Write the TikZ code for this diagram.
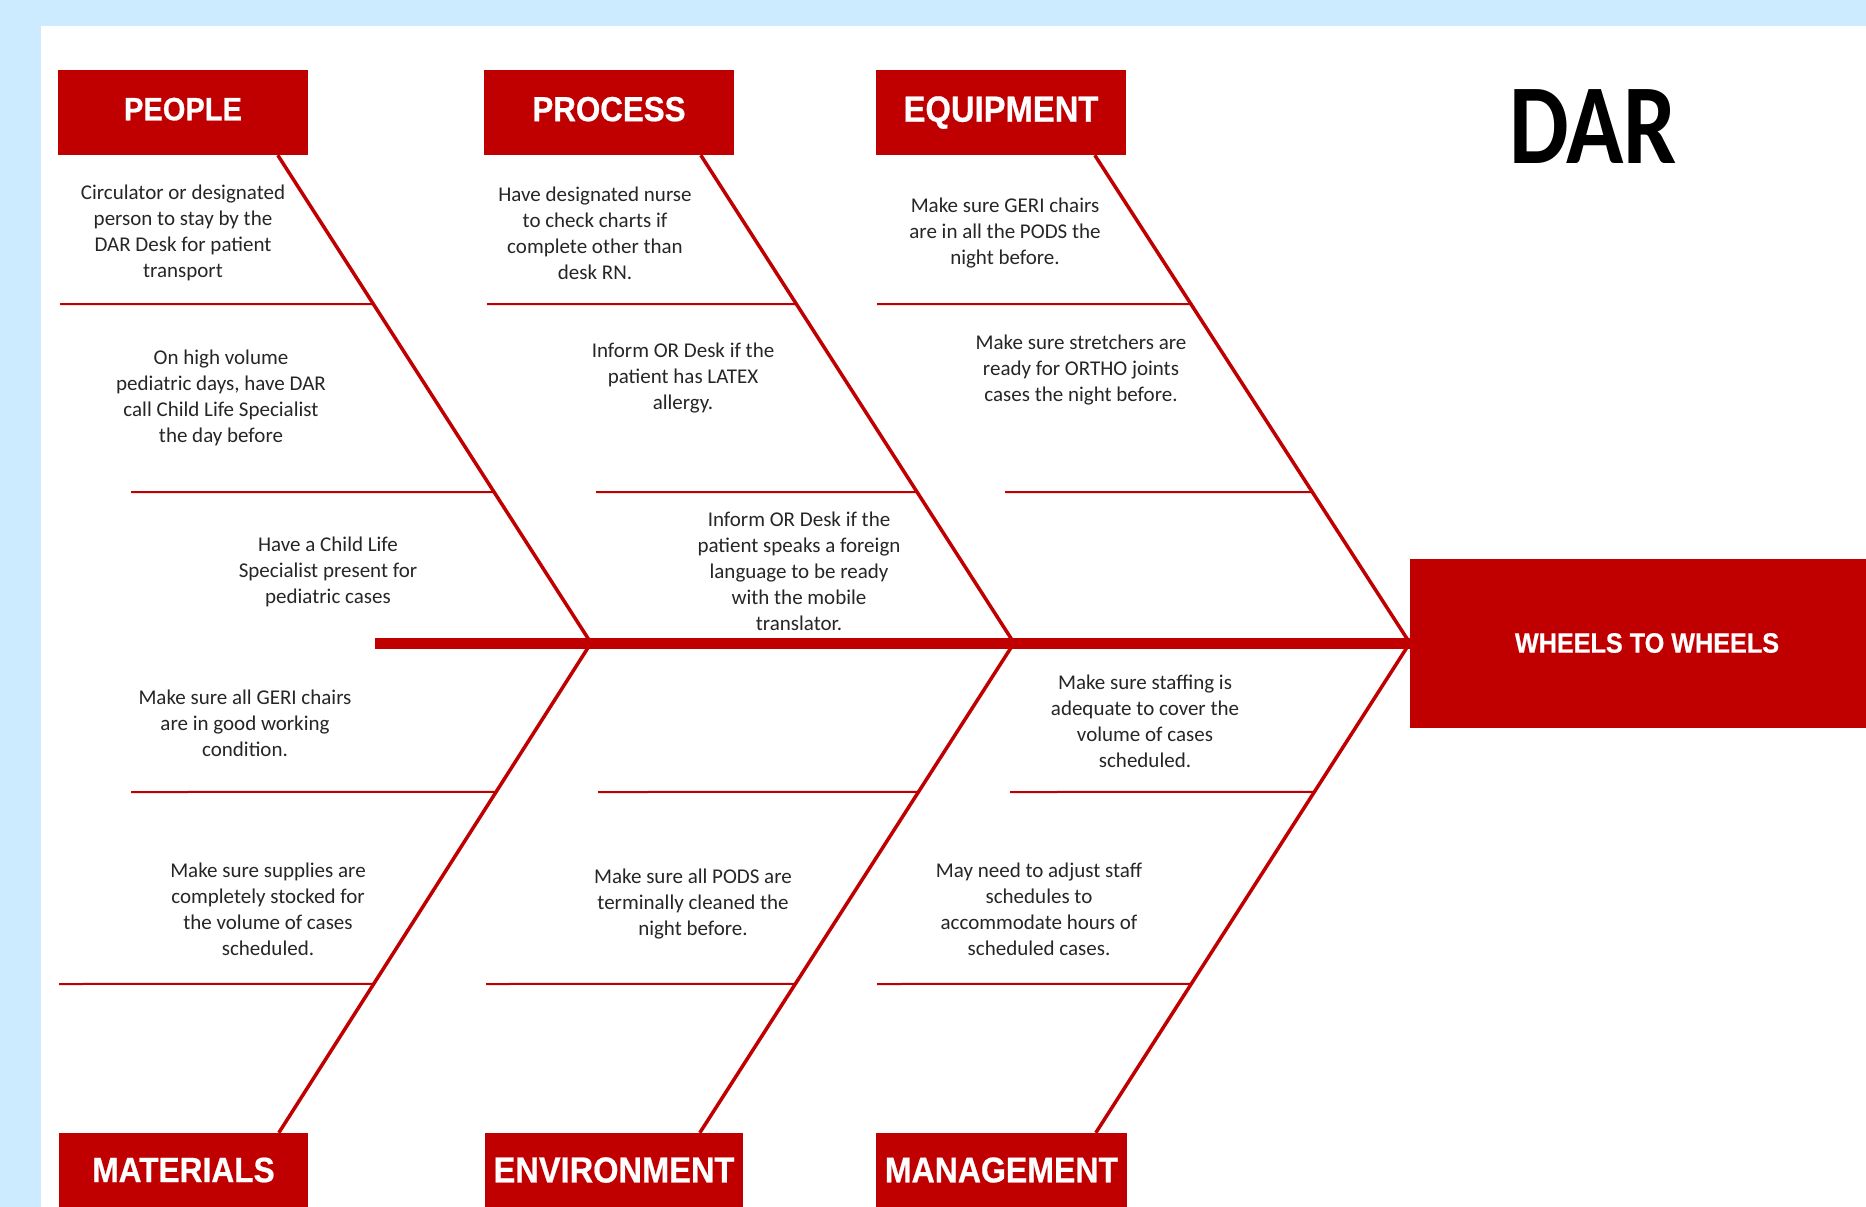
\documentclass[tikz,border=0pt]{standalone}
\usepackage{fontspec}
\setmainfont{Carlito}
\newfontfamily\headfont{Liberation Sans}[FakeStretch=0.9,FakeBold=0.6]
\newfontfamily\darfont{Carlito}[FakeStretch=0.83]
\usetikzlibrary{calc}
\definecolor{fishred}{HTML}{C00000}
\definecolor{paneblue}{RGB}{204,235,255}
\definecolor{notegray}{HTML}{262626}

\begin{document}
\begin{tikzpicture}[x=1pt,y=-1pt,
  catbox/.style={fill=fishred, text=white, inner sep=0pt,
    font=\headfont\bfseries\fontsize{#1}{#1}\selectfont},
  topbox/.style={catbox=#1, minimum height=85pt, text depth=7pt},
  botbox/.style={catbox=#1, minimum height=74pt},
  note/.style={align=center, text=notegray, inner sep=0pt,
    font=\fontsize{21}{26}\selectfont},
  spine/.style={draw=fishred, line width=11pt},
  bone/.style={draw=fishred, line width=3.5pt},
  rib/.style={draw=fishred, line width=2pt}]

\useasboundingbox (0,0) rectangle (1866,1207);
\clip (0,0) rectangle (1866,1207);

% page frame
\fill[paneblue] (0,0) rectangle (1866,1207);
\fill[white] (41,26) rectangle (1866,1207);

% title
\node[font=\darfont\bfseries\fontsize{114}{114}\selectfont, inner sep=0pt] (dar) at (1593,127) {DAR};

% category boxes
\node[topbox=32.3, minimum width=250pt] (people)    at (183,112.5)  {PEOPLE};
\node[topbox=34.8, minimum width=250pt] (process)   at (609,112.5)  {PROCESS};
\node[topbox=36.4, minimum width=250pt] (equipment) at (1001,112.5) {EQUIPMENT};
\node[botbox=35.2, minimum width=249pt] (materials)   at (183.5,1170) {MATERIALS};
\node[botbox=36.2, minimum width=258pt] (environment) at (614,1170)   {ENVIRONMENT};
\node[botbox=35.6, minimum width=251pt] (management)  at (1001.5,1170) {MANAGEMENT};

% effect box
\node[catbox=28, minimum width=474pt, minimum height=169pt] (wheels) at (1647,643) {WHEELS TO WHEELS};

% spine
\coordinate (tail) at (375,643);
\coordinate (j1) at (591,643);
\coordinate (j2) at (1014,643);
\draw[spine] (tail) -- (wheels.west);

% bone roots on the boxes
\coordinate (p1) at ($(people.south west)+(220,0)$);
\coordinate (p2) at ($(process.south west)+(217,0)$);
\coordinate (p3) at ($(equipment.south west)+(219,0)$);
\coordinate (m1) at ($(materials.north west)+(220,0)$);
\coordinate (m2) at ($(environment.north west)+(215,0)$);
\coordinate (m3) at ($(management.north west)+(220,0)$);

% bones
\draw[bone] (p1) -- (j1);
\draw[bone] (m1) -- (j1);
\draw[bone] (p2) -- (j2);
\draw[bone] (m2) -- (j2);
\draw[bone] (p3) -- (wheels.west);
\draw[bone] (m3) -- (wheels.west);

% rib starts
\coordinate (a1) at (60,304);   \coordinate (a2) at (131,492);
\coordinate (a3) at (131,792);  \coordinate (a4) at (59,984);
\coordinate (b1) at (487,304);  \coordinate (b2) at (596,492);
\coordinate (b3) at (598,792);  \coordinate (b4) at (486,984);
\coordinate (c1) at (877,304);  \coordinate (c2) at (1005,492);
\coordinate (c3) at (1010,792); \coordinate (c4) at (877,984);

% ribs, each ending on its bone
\draw[rib] (a1) -- ($(p1)!0.3053!(j1)$);
\draw[rib] (a2) -- ($(p1)!0.6906!(j1)$);
\draw[rib] (a3) -- ($(j1)!0.3041!(m1)$);
\draw[rib] (a4) -- ($(j1)!0.6959!(m1)$);
\draw[rib] (b1) -- ($(p2)!0.3053!(j2)$);
\draw[rib] (b2) -- ($(p2)!0.6906!(j2)$);
\draw[rib] (b3) -- ($(j2)!0.3041!(m2)$);
\draw[rib] (b4) -- ($(j2)!0.6959!(m2)$);
\draw[rib] (c1) -- ($(p3)!0.3053!(wheels.west)$);
\draw[rib] (c2) -- ($(p3)!0.6906!(wheels.west)$);
\draw[rib] (c3) -- ($(wheels.west)!0.3041!(m3)$);
\draw[rib] (c4) -- ($(wheels.west)!0.6959!(m3)$);

% causes
\node[note] (n1) at (183,233) {Circulator or designated\\person to stay by the\\DAR Desk for patient\\transport};
\node[note] (n2) at (221,398) {On high volume\\pediatric days, have DAR\\call Child Life Specialist\\the day before};
\node[note] (n3) at (328,572) {Have a Child Life\\Specialist present for\\pediatric cases};
\node[note] (n4) at (245,723) {Make sure all GERI chairs\\are in good working\\condition.};
\node[note] (n5) at (268,909) {Make sure supplies are\\completely stocked for\\the volume of cases\\scheduled.};
\node[note] (n6) at (595,233) {Have designated nurse\\to check charts if\\complete other than\\desk RN.};
\node[note] (n7) at (683,378) {Inform OR Desk if the\\patient has LATEX\\allergy.};
\node[note] (n8) at (799,571) {Inform OR Desk if the\\patient speaks a foreign\\language to be ready\\with the mobile\\translator.};
\node[note] (n9) at (693,904) {Make sure all PODS are\\terminally cleaned the\\night before.};
\node[note] (n10) at (1005,233) {Make sure GERI chairs\\are in all the PODS the\\night before.};
\node[note] (n11) at (1081,370) {Make sure stretchers are\\ready for ORTHO joints\\cases the night before.};
\node[note] (n12) at (1145,721) {Make sure staffing is\\adequate to cover the\\volume of cases\\scheduled.};
\node[note] (n13) at (1039,909) {May need to adjust staff\\schedules to\\accommodate hours of\\scheduled cases.};

\end{tikzpicture}
\end{document}
